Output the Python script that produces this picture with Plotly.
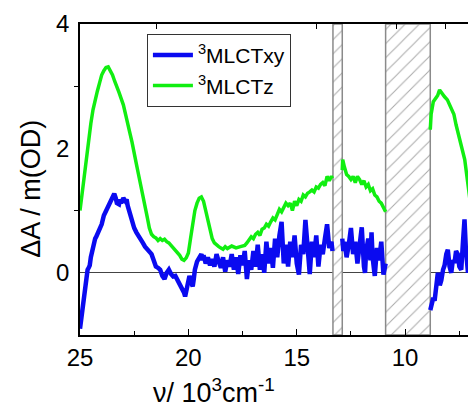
import plotly.graph_objects as go

# ---- data ----
blue_x = [25.0, 24.95, 24.9, 24.85, 24.8, 24.75, 24.7, 24.65, 24.6, 24.55, 24.5, 24.45, 24.4, 24.35, 24.3, 24.25, 24.2, 24.1, 24.0, 23.9, 23.8, 23.7, 23.6, 23.5, 23.42, 23.35, 23.3, 23.2, 23.15, 23.1, 23.0, 22.9, 22.85, 22.8, 22.7, 22.6, 22.5, 22.4, 22.3, 22.2, 22.1, 22.0, 21.9, 21.8, 21.7, 21.6, 21.5, 21.4, 21.3, 21.2, 21.1, 21.0, 20.9, 20.8, 20.7, 20.6, 20.5, 20.4, 20.3, 20.2, 20.15, 20.1, 20.0, 19.95, 19.9, 19.8, 19.75, 19.7, 19.6, 19.5, 19.4, 19.35,
          19.3, 19.2, 19.1, 19.0, 18.9, 18.8, 18.7, 18.6, 18.5, 18.4, 18.3, 18.2, 18.1, 18.0, 17.9, 17.8, 17.7, 17.6, 17.5, 17.4, 17.3, 17.2, 17.1, 17.0, 16.9, 16.8, 16.7, 16.6, 16.5, 16.4, 16.3, 16.2, 16.1, 16.0, 15.9, 15.8, 15.7, 15.6, 15.5, 15.4, 15.3, 15.2, 15.1, 15.0, 14.9, 14.8, 14.7, 14.6, 14.5, 14.4, 14.3, 14.2, 14.1, 14.0, 13.9, 13.8, 13.7, 13.6, 13.5, 13.4, 13.35,
          None,
          12.9, 12.85, 12.8, 12.7, 12.6, 12.5, 12.4, 12.3, 12.2, 12.1, 12.0, 11.9, 11.85, 11.8, 11.7, 11.6, 11.55, 11.5, 11.4, 11.3, 11.2, 11.1, 11.0, 10.9,
          None,
          8.84, 8.8, 8.7, 8.64, 8.55, 8.49, 8.4, 8.33, 8.25, 8.18, 8.1, 8.03, 7.95, 7.87, 7.8, 7.72, 7.65, 7.57, 7.5, 7.41, 7.33, 7.26, 7.2, 7.1, 7.02, 6.95, 6.85, 6.75]
blue_y = [-0.90, -0.75, -0.55, -0.45, -0.25, -0.12, -0.05, 0.05, 0.08, 0.12, 0.25, 0.35, 0.38, 0.48, 0.55, 0.58, 0.62, 0.70, 0.78, 0.92, 1.0, 1.08, 1.15, 1.2, 1.27, 1.2, 1.12, 1.10, 1.18, 1.12, 1.2, 1.15, 1.18, 1.08, 0.95, 0.82, 0.72, 0.65, 0.58, 0.52, 0.48, 0.42, 0.38, 0.33, 0.30, 0.20, 0.10, 0.08, 0.05, -0.05, -0.10, 0.0, 0.05, -0.02, -0.06, -0.05, -0.12, -0.15, -0.22, -0.32, -0.38, -0.30, -0.15, -0.05, -0.12, -0.22, -0.10, 0.05, 0.18, 0.25, 0.30, 0.20,
          0.28, 0.15, 0.25, 0.12, 0.22, 0.10, 0.30, 0.18, 0.08, 0.25, 0.02, 0.20, 0.10, 0.30, 0.05, 0.25, -0.02, 0.28, 0.12, 0.35, -0.10, 0.20, 0.05, 0.35, 0.10, 0.45, 0.05, 0.30, 0.0, 0.50, 0.15, 0.40, 0.08, 0.55, 0.25, 0.60, 0.82, 0.15, 0.45, 0.10, 0.50, 0.25, 0.60, 0.15, -0.03, 0.45, 0.30, 0.85, 0.40, -0.02, 0.50, 0.25, 0.60, 0.10, 0.45, 0.30, 0.55, 0.78, 0.40, 0.50, 0.35,
          None,
          0.55, 0.35, 0.50, 0.25, 0.45, 0.72, 0.30, 0.50, 0.15, 0.40, 0.73, 0.10, 0.0, 0.35, 0.55, 0.20, 0.65, 0.25, -0.05, 0.40, 0.20, 0.50, -0.03, 0.15,
          None,
          -0.60, -0.54, -0.40, -0.45, -0.15, 0.0, -0.2, -0.12, 0.05, 0.12, 0.30, 0.37, 0.10, 0.0, 0.20, 0.16, 0.35, 0.30, 0.10, 0.05, 0.50, 0.86, 0.40, 0.0, 0.25, 0.43, 0.30, 0.48]

green_x = [25.0, 24.9, 24.8, 24.7, 24.6, 24.5, 24.4, 24.3, 24.2, 24.1, 24.0, 23.9, 23.8, 23.7, 23.6, 23.5, 23.4, 23.3, 23.2, 23.1, 23.0, 22.9, 22.8, 22.7, 22.6, 22.5, 22.4, 22.3, 22.2, 22.1, 22.0, 21.9, 21.8, 21.7, 21.6, 21.5, 21.4, 21.3, 21.2, 21.1, 21.0, 20.9, 20.8, 20.7, 20.6, 20.5, 20.4, 20.3, 20.2, 20.1, 20.0, 19.9, 19.8, 19.7, 19.6, 19.5, 19.4, 19.3, 19.2, 19.1, 19.0, 18.9, 18.8, 18.7, 18.6, 18.5, 18.4, 18.3, 18.2, 18.0, 17.8, 17.6, 17.4, 17.3, 17.2, 17.1, 17.0, 16.9, 16.8, 16.7, 16.6, 16.5, 16.4, 16.3, 16.2, 16.1, 16.0, 15.9, 15.8, 15.7, 15.6, 15.5, 15.4, 15.3, 15.2, 15.1, 15.0, 14.9, 14.8, 14.7, 14.6, 14.5, 14.4, 14.3, 14.2, 14.1, 14.0, 13.9, 13.8, 13.7, 13.6, 13.5, 13.4, 13.35,
           None,
           12.9, 12.88, 12.8, 12.7, 12.6, 12.5, 12.4, 12.3, 12.2, 12.1, 12.0, 11.9, 11.8, 11.7, 11.6, 11.5, 11.4, 11.3, 11.2, 11.1, 11.0, 10.9,
           None,
           8.84, 8.8, 8.7, 8.6, 8.5, 8.41, 8.3, 8.18, 8.05, 7.95, 7.85, 7.75, 7.65, 7.55, 7.48, 7.35, 7.25, 7.15, 7.05, 6.95, 6.85, 6.75]
green_y = [1.0, 1.3, 1.5, 1.8, 2.1, 2.4, 2.62, 2.8, 2.92, 3.05, 3.18, 3.25, 3.30, 3.31, 3.25, 3.18, 3.08, 3.0, 2.9, 2.8, 2.7, 2.55, 2.42, 2.25, 2.1, 1.95, 1.75, 1.58, 1.42, 1.25, 1.12, 0.9, 0.72, 0.62, 0.58, 0.56, 0.52, 0.55, 0.52, 0.54, 0.50, 0.48, 0.44, 0.40, 0.36, 0.34, 0.28, 0.22, 0.2, 0.24, 0.32, 0.55, 0.80, 1.0, 1.12, 1.2, 1.22, 1.15, 1.0, 0.85, 0.68, 0.55, 0.48, 0.44, 0.42, 0.40, 0.38, 0.42, 0.39, 0.43, 0.40, 0.42, 0.44, 0.48, 0.52, 0.58, 0.55, 0.62, 0.65, 0.60, 0.70, 0.72, 0.78, 0.75, 0.82, 0.88, 0.85, 0.95, 1.02, 0.98, 1.05, 1.12, 1.08, 1.12, 1.0, 1.15, 1.08, 1.18, 1.15, 1.25, 1.22, 1.28, 1.30, 1.33, 1.30, 1.38, 1.36, 1.42, 1.45, 1.40, 1.55, 1.48, 1.55, 1.52,
           None,
           1.65, 1.82, 1.70, 1.58, 1.55, 1.50, 1.55, 1.45, 1.55, 1.50, 1.42, 1.48, 1.38, 1.42, 1.32, 1.35, 1.25, 1.22, 1.15, 1.12, 1.05, 0.98,
           None,
           2.3, 2.55, 2.75, 2.80, 2.85, 2.94, 2.88, 2.83, 2.78, 2.70, 2.62, 2.55, 2.38, 2.25, 2.14, 1.95, 1.82, 1.55, 1.25, 1.02, 0.80, 0.60]

# excluded (hatched) spectral regions: [start, end] in 10^3 cm^-1
gap_start = [13.33, 10.90]
gap_end = [12.90, 8.84]

x_ticks = [25, 20, 15, 10]
y_ticks = [0, 2, 4]
top_ticks = [21.46, 14.1, 10.4, 8.15]

y_min, y_max = -1, 4
x_range = [25, 6.73]

fig = go.Figure()

fig.add_trace(go.Bar(
    x=[(a + b) / 2 for a, b in zip(gap_start, gap_end)],
    width=[a - b for a, b in zip(gap_start, gap_end)],
    y=[y_max - y_min] * len(gap_start),
    base=[y_min] * len(gap_start),
    marker=dict(color="white",
                line=dict(color="#8a8a8a", width=1.5),
                pattern=dict(shape="/", fgcolor="#555555", bgcolor="white", size=10, solidity=0.1)),
    showlegend=False, hoverinfo="skip",
))

fig.add_trace(go.Scatter(x=blue_x, y=blue_y, mode="lines", name="<sup>3</sup>MLCTxy",
                         line=dict(color="#0a0af0", width=4.5), connectgaps=False))
fig.add_trace(go.Scatter(x=green_x, y=green_y, mode="lines", name="<sup>3</sup>MLCTz",
                         line=dict(color="#11ee11", width=3.5), connectgaps=False))

# invisible trace to anchor top axis
fig.add_trace(go.Scatter(x=[None], y=[None], xaxis="x2", showlegend=False))

font = "Liberation Sans, Arial, sans-serif"
fig.update_layout(
    width=476, height=409,
    margin=dict(l=72, r=8, t=16, b=82, autoexpand=False),
    paper_bgcolor="white", plot_bgcolor="white",
    font=dict(family=font, size=24, color="black"),
    showlegend=True,
    legend=dict(x=0.169, y=0.968, xanchor="left", yanchor="top",
                bordercolor="#333333", borderwidth=1, bgcolor="white",
                font=dict(size=21), itemwidth=40, tracegroupgap=0),
    xaxis=dict(range=x_range, tickvals=x_ticks, ticks="inside", ticklen=6, tickwidth=1.2,
               tickcolor="black", showline=True, linecolor="black", linewidth=1.5, mirror=True,
               showgrid=False, zeroline=False, automargin=False,
               minor=dict(tickvals=[22.5, 17.5, 12.5, 7.5], ticks="inside", ticklen=4, tickcolor="black"),
               tickfont=dict(size=24)),
    xaxis2=dict(overlaying="x", side="top", range=x_range, tickvals=top_ticks, ticks="inside",
                ticklen=5, tickcolor="black", showticklabels=False, showgrid=False, zeroline=False,
                showline=False, automargin=False),
    yaxis=dict(range=[y_min, y_max], tickvals=y_ticks, ticks="", showline=True, linecolor="black",
               linewidth=1.5, showgrid=False, zeroline=True, zerolinecolor="#444444", zerolinewidth=1,
               automargin=False,
               minor=dict(tickvals=[1, 3], ticks="outside", ticklen=4, tickcolor="black"),
               tickfont=dict(size=24), ticklabelstandoff=4),
    annotations=[
        dict(text="\u0394A / m(OD)", xref="paper", yref="paper", x=-0.124, y=0.47,
             textangle=-90, showarrow=False, font=dict(size=27), xanchor="center", yanchor="middle"),
        dict(text="\u03bd/ 10<sup>3</sup>cm<sup>-1</sup>", xref="paper", yref="paper", x=0.338, y=-0.18,
             showarrow=False, font=dict(size=27), xanchor="center", yanchor="middle"),
    ],
)

fig.write_html("out.html")
